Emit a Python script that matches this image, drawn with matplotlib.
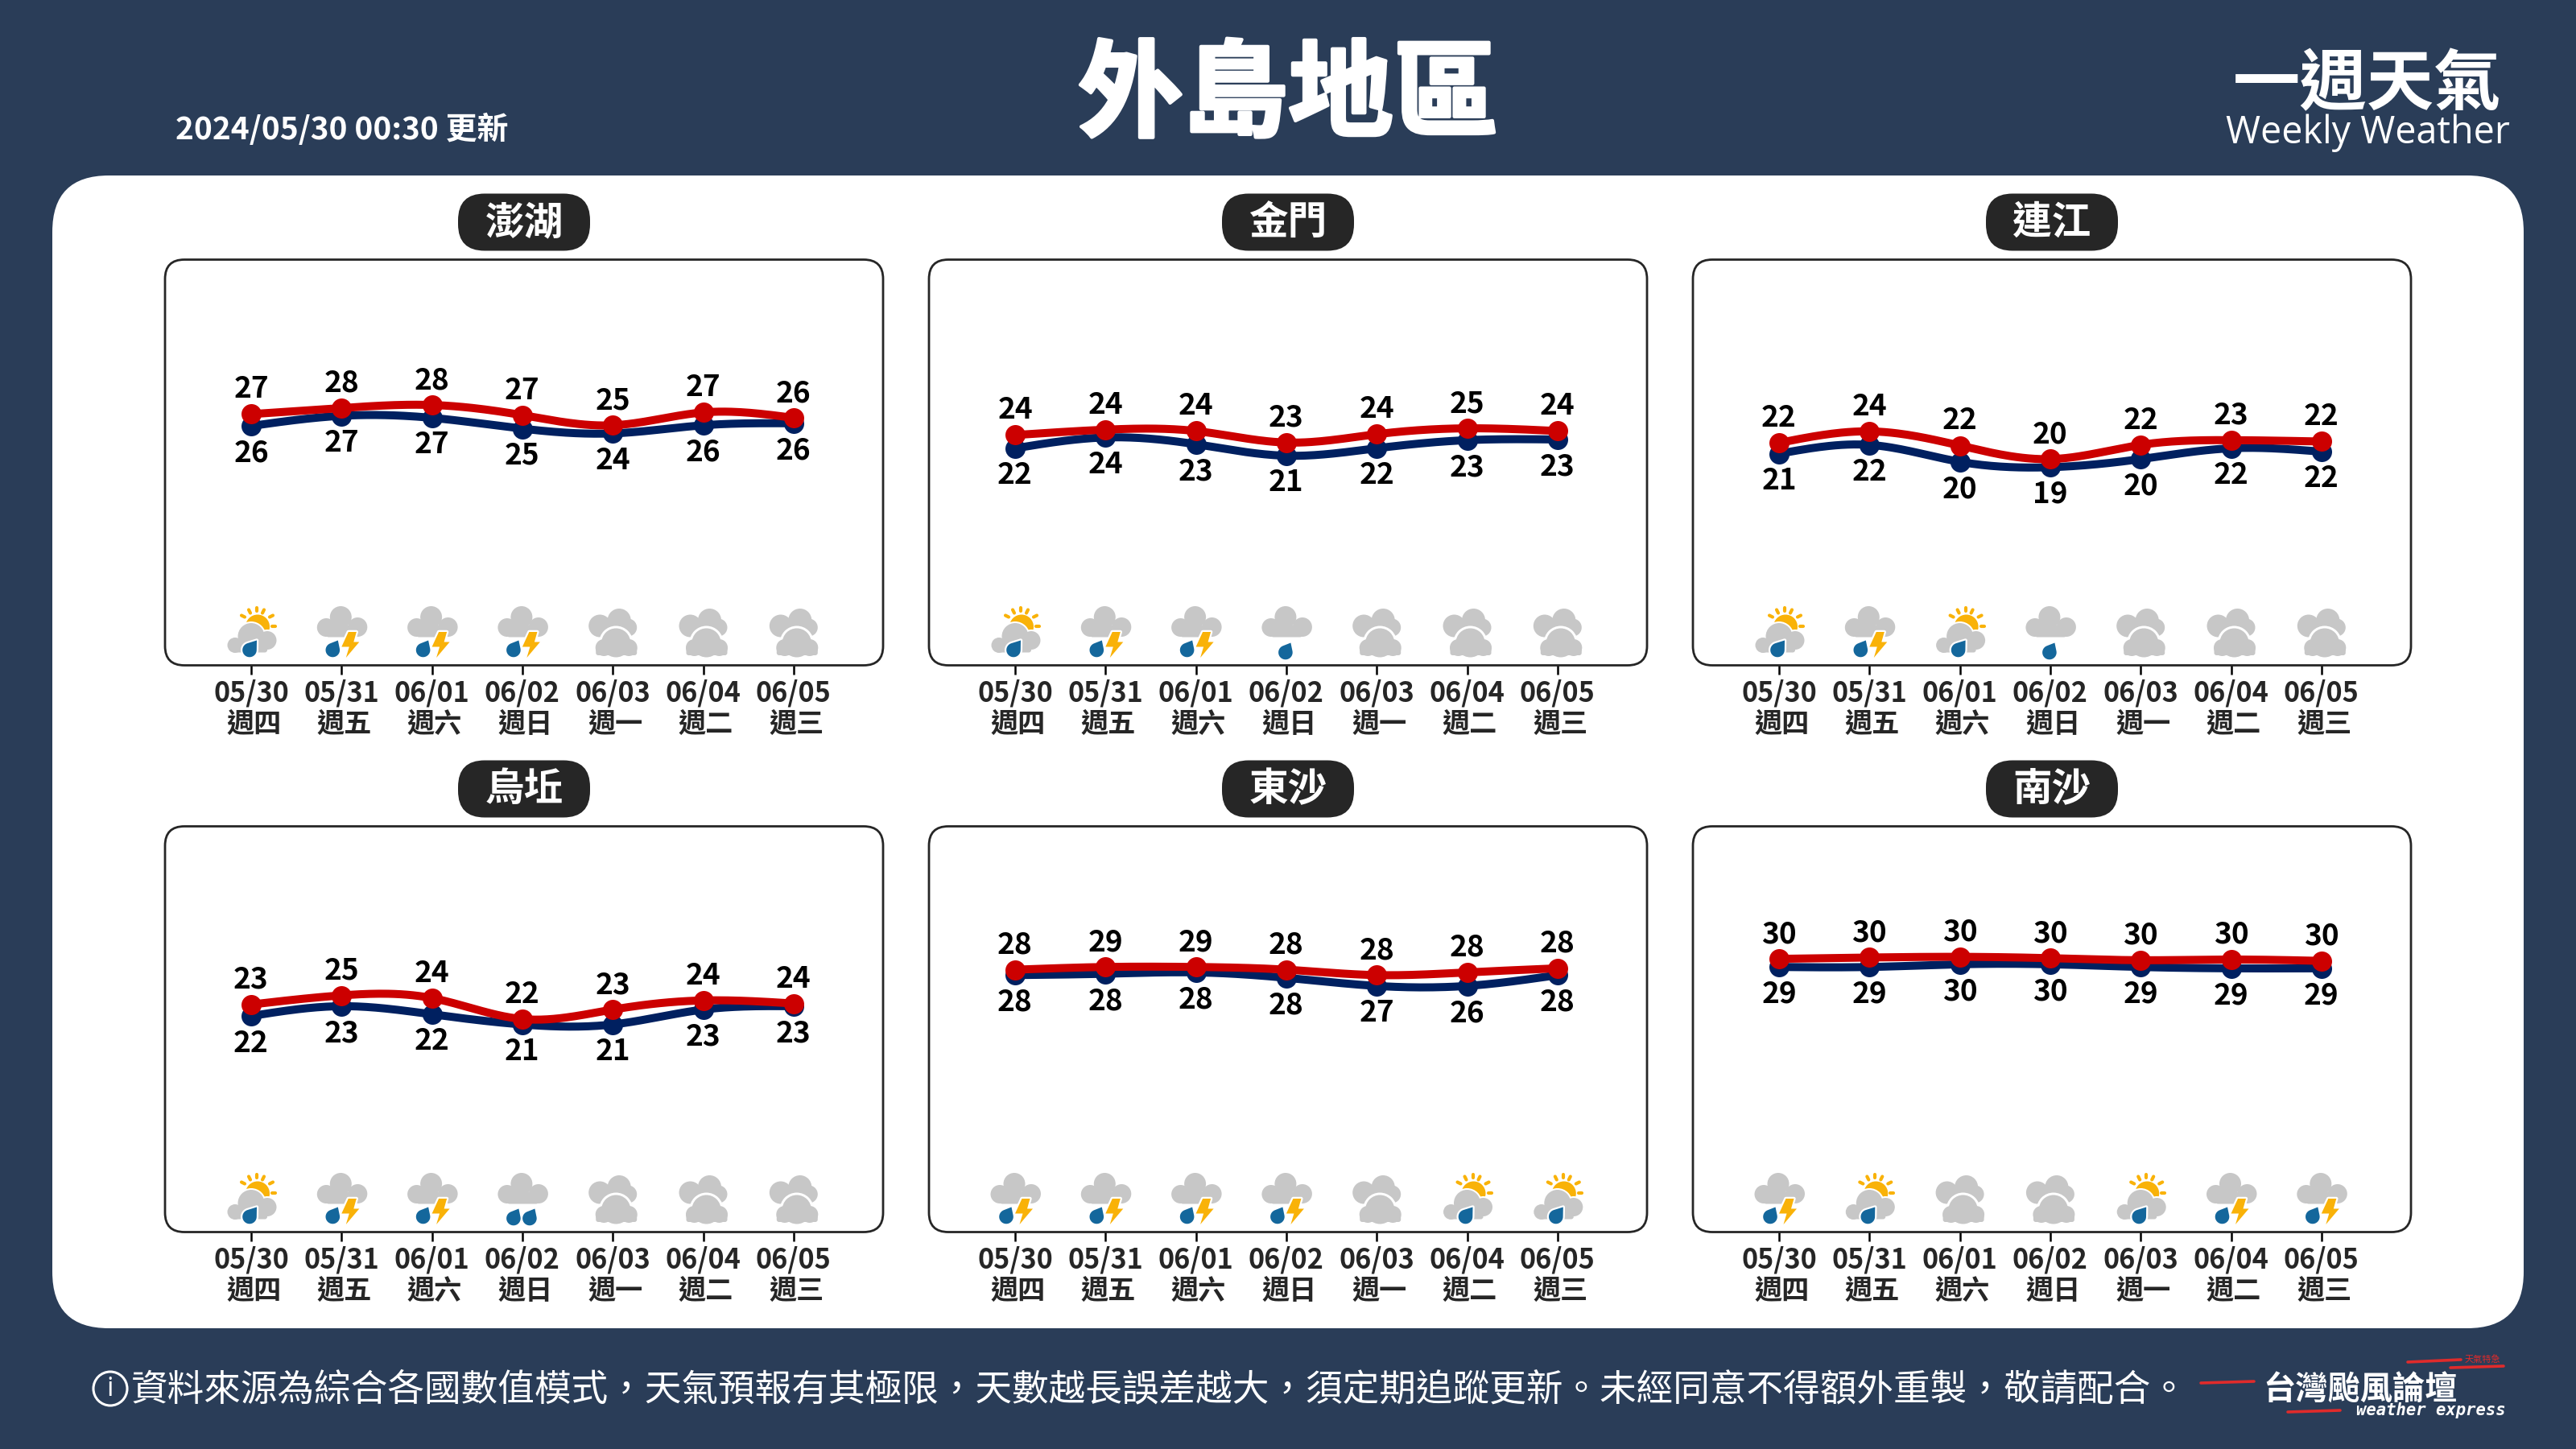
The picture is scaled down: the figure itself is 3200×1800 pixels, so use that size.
import numpy as np
import matplotlib
matplotlib.use("Agg")
import matplotlib.pyplot as plt
from matplotlib.patches import FancyBboxPatch, Circle, Polygon
from matplotlib.transforms import Affine2D, ScaledTranslation
import matplotlib.patheffects as pe

CJK = ['Noto Sans CJK TC', 'DejaVu Sans']
plt.rcParams['font.family'] = CJK

# ---------- data ----------
dates = ['05/30', '05/31', '06/01', '06/02', '06/03', '06/04', '06/05']
weekdays = ['週四', '週五', '週六', '週日', '週一', '週二', '週三']
stations = ['澎湖', '金門', '連江', '烏坵', '東沙', '南沙']

high_penghu = [27.15, 28.05, 28.5, 27.0, 25.5, 27.4, 26.6]
low_penghu = [25.4, 26.9, 26.6, 25.0, 24.3, 25.5, 25.8]
high_kinmen = [24.06, 24.85, 24.65, 22.95, 24.18, 25.05, 24.65]
low_kinmen = [22.1, 23.7, 22.7, 21.0, 22.1, 23.3, 23.4]
high_lienchiang = [22.9, 24.6, 22.5, 20.5, 22.6, 23.3, 23.1]
low_lienchiang = [21.3, 22.6, 20.1, 19.3, 20.5, 22.1, 21.6]
high_wuqiu = [23.65, 25.0, 24.6, 21.5, 22.9, 24.25, 23.8]
low_wuqiu = [21.95, 23.4, 22.2, 20.7, 20.7, 22.9, 23.4]
high_dongsha = [28.8, 29.2, 29.2, 28.8, 28.0, 28.4, 29.0]
low_dongsha = [28.0, 28.2, 28.4, 27.6, 26.4, 26.4, 28.0]
high_nansha = [30.4, 30.6, 30.7, 30.5, 30.2, 30.3, 30.1]
low_nansha = [29.2, 29.2, 29.6, 29.6, 29.2, 29.0, 29.0]

hi_lab_penghu = [27, 28, 28, 27, 25, 27, 26]
lo_lab_penghu = [26, 27, 27, 25, 24, 26, 26]
hi_lab_kinmen = [24, 24, 24, 23, 24, 25, 24]
lo_lab_kinmen = [22, 24, 23, 21, 22, 23, 23]
hi_lab_lienchiang = [22, 24, 22, 20, 22, 23, 22]
lo_lab_lienchiang = [21, 22, 20, 19, 20, 22, 22]
hi_lab_wuqiu = [23, 25, 24, 22, 23, 24, 24]
lo_lab_wuqiu = [22, 23, 22, 21, 21, 23, 23]
hi_lab_dongsha = [28, 29, 29, 28, 28, 28, 28]
lo_lab_dongsha = [28, 28, 28, 28, 27, 26, 28]
hi_lab_nansha = [30, 30, 30, 30, 30, 30, 30]
lo_lab_nansha = [29, 29, 30, 30, 29, 29, 29]

# S: sun+cloud+rain, T: thunder shower, C: cloudy, R: rain, D: heavier rain
wx_penghu = list('STTTCCC')
wx_kinmen = list('STTRCCC')
wx_lienchiang = list('STSRCCC')
wx_wuqiu = list('STTDCCC')
wx_dongsha = list('TTTTCSS')
wx_nansha = list('TSCCSTT')

highs = [high_penghu, high_kinmen, high_lienchiang, high_wuqiu, high_dongsha, high_nansha]
lows = [low_penghu, low_kinmen, low_lienchiang, low_wuqiu, low_dongsha, low_nansha]
hi_labels = [hi_lab_penghu, hi_lab_kinmen, hi_lab_lienchiang, hi_lab_wuqiu, hi_lab_dongsha, hi_lab_nansha]
lo_labels = [lo_lab_penghu, lo_lab_kinmen, lo_lab_lienchiang, lo_lab_wuqiu, lo_lab_dongsha, lo_lab_nansha]
weather = [wx_penghu, wx_kinmen, wx_lienchiang, wx_wuqiu, wx_dongsha, wx_nansha]

FOOTNOTE = ('資料來源為綜合各國數值模式\uff0c天氣預報有其極限\uff0c天數越長誤差越大\uff0c須定期追蹤更新\u3002'
            '未經同意不得額外重製\uff0c敬請配合\u3002')

# ---------- style ----------
BG = '#2a3d58'
RED = '#cc0000'
NAVY = '#002060'
DARK = '#262626'
CLOUD = '#c7c7c7'
GOLD = '#f9b208'
BLUE = '#14679c'
LOGO_RED = '#e02b2b'


def smooth(y, n=30):
    """natural cubic spline through the daily values"""
    y = np.asarray(y, float)
    m = len(y)
    A = np.zeros((m, m))
    b = np.zeros(m)
    A[0, 0] = A[-1, -1] = 1
    for i in range(1, m - 1):
        A[i, i - 1:i + 2] = [1, 4, 1]
        b[i] = 6 * (y[i + 1] - 2 * y[i] + y[i - 1])
    M = np.linalg.solve(A, b)
    xs, ys = [], []
    for i in range(m - 1):
        t = np.linspace(0, 1, n)
        ys.append(M[i] * (1 - t) ** 3 / 6 + M[i + 1] * t ** 3 / 6
                  + (y[i] - M[i] / 6) * (1 - t) + (y[i + 1] - M[i + 1] / 6) * t)
        xs.append(i + t)
    return np.concatenate(xs), np.concatenate(ys)


def drop_pts(cx, cy, r, tx, ty):
    d = np.hypot(tx - cx, ty - cy)
    a0 = np.arctan2(ty - cy, tx - cx)
    da = np.arccos(r / d)
    th = np.linspace(a0 + da, a0 + 2 * np.pi - da, 30)
    pts = np.c_[cx + r * np.cos(th), cy + r * np.sin(th)]
    return np.vstack([[tx, ty], pts])


def cloud(ax, tr, bumps, rect, color=CLOUD, grow=0, z=6):
    x0, y0, x1, y1 = rect
    for (cx, cy, r) in bumps:
        ax.add_patch(Circle((cx, cy), r + grow, fc=color, ec='none', transform=tr, clip_on=False, zorder=z))
    ax.add_patch(FancyBboxPatch((x0 - grow, y0 - grow), x1 - x0 + 2 * grow, y1 - y0 + 2 * grow,
                                boxstyle='round,pad=0,rounding_size=3', fc=color, ec='none',
                                transform=tr, clip_on=False, zorder=z))


def poly(ax, tr, pts, fc, halo=0, z=7):
    """filled shape, with an optional white halo of `halo` points behind it"""
    if halo:
        ax.add_patch(Polygon(pts, closed=True, fc='white', ec='white', lw=halo, transform=tr,
                             clip_on=False, zorder=z - 0.1, joinstyle='round'))
    ax.add_patch(Polygon(pts, closed=True, fc=fc, ec='none', lw=0, transform=tr, clip_on=False, zorder=z))


BIG_BUMPS = [(-19, 47, 11.5), (20, 47.5, 12), (-1, 60, 13.5)]
BIG_RECT = (-19, 35, 20, 50)


def icon(ax, i, kind):
    tr = Affine2D() + ScaledTranslation(i, 0, ax.get_xaxis_transform())
    if kind in 'TRD':
        cloud(ax, tr, BIG_BUMPS, BIG_RECT)
    if kind == 'T':
        bolt = [(8.5, 41.5), (18.5, 41.5), (15, 29), (22, 29), (5.5, 9.5), (9.5, 23), (0, 23)]
        poly(ax, tr, bolt, GOLD, halo=1.6, z=7)
        poly(ax, tr, drop_pts(-11, 19, 8.8, -4.5, 31), BLUE, z=8)
    elif kind == 'R':
        poly(ax, tr, drop_pts(-1, 16, 8.8, 5.5, 28), BLUE, halo=1.4, z=8)
    elif kind == 'D':
        poly(ax, tr, drop_pts(-11, 17, 8.8, -4.5, 29), BLUE, halo=1.4, z=8)
        poly(ax, tr, drop_pts(9, 17, 8.8, 15.5, 29), BLUE, halo=1.4, z=8)
    elif kind == 'S':
        ax.add_patch(Circle((8, 48), 15, fc=GOLD, ec='none', transform=tr, clip_on=False, zorder=5))
        for (a, b, c, d) in [(-12, 62, -8, 60), (-3, 69, -1, 65), (7, 72, 7, 68), (16, 69, 14, 65),
                             (27, 62, 23, 60), (30, 49, 26, 49)]:
            ax.plot([a, c], [b, d], color=GOLD, lw=1.5, solid_capstyle='round', transform=tr,
                    clip_on=False, zorder=5)
        bumps = [(-20, 25, 9.5), (0, 36, 16.5), (20, 31, 11.5)]
        rect = (-20, 16, 20, 32)
        cloud(ax, tr, bumps, rect, color='white', grow=2, z=5.5)
        cloud(ax, tr, bumps, rect)
        poly(ax, tr, drop_pts(-2, 19, 8.8, 7, 31), BLUE, halo=1.6, z=8)
    elif kind == 'C':
        cloud(ax, tr, [(-16, 49, 14), (8, 56, 14.5), (19, 47, 11)], (-17, 35, 20, 50), z=5)
        front = [(-11, 22, 10.5), (4, 28, 18), (20, 22, 10.5)]
        frect = (-21, 12.5, 30, 24)
        cloud(ax, tr, front, frect, color='white', grow=3, z=5.5)
        cloud(ax, tr, front, frect, z=6)


# ---------- figure ----------
W, H = 3200, 1800
fig = plt.figure(figsize=(16, 9), dpi=200, facecolor=BG)
deco = fig.add_axes([0, 0, 1, 1], zorder=0)
deco.set_xlim(0, W)
deco.set_ylim(H, 0)
deco.axis('off')

deco.add_patch(FancyBboxPatch((65, 218), 3070, 1432, boxstyle='round,pad=0,rounding_size=70',
                              fc='white', ec='none'))

deco.text(1600, 121, '外島地區', color='white', fontsize=47, fontweight='black', ha='center',
          va='center', path_effects=[pe.withStroke(linewidth=1.5, foreground='white')])
deco.text(218, 161, '2024/05/30 00:30 更新', color='white', fontsize=14, fontweight='bold',
          ha='left', va='center')
deco.text(2941, 106, '一週天氣', color='white', fontsize=30, fontweight='bold', ha='center', va='center')
deco.text(2941, 165, 'Weekly Weather', color='white', fontsize=16.8, family='Open Sans', ha='center', va='center')

deco.add_patch(Circle((137, 1725), 21, fc='none', ec='white', lw=1.1))
deco.text(137, 1725, 'i', color='white', fontsize=12, family='Open Sans', ha='center', va='center')
deco.text(163, 1726, FOOTNOTE, color='white', fontsize=16.45, fontweight='light', ha='left', va='center')

for (x0, y0, x1, y1) in [(2734, 1718, 2800, 1716), (2842, 1754, 2907, 1752),
                         (2991, 1692, 3057, 1689), (3044, 1699, 3110, 1697)]:
    deco.plot([x0, x1], [y0, y1], color=LOGO_RED, lw=1.3, solid_capstyle='round')
deco.text(2932, 1727, '台灣颱風論壇', color='white', fontsize=14.5, fontweight='bold', ha='center', va='center')
deco.text(3020, 1752, 'weather express', color='white', fontsize=7.4, family='DejaVu Sans Mono',
          style='oblique', fontweight='bold', ha='center', va='center')
deco.text(3084, 1689, '天氣特急', color=LOGO_RED, fontsize=4, ha='center', va='center')

lefts = [205, 1154, 2103]
tops = [322.5, 1026.5]
BW, BH = 892, 504
X0, DX = 107, 112.3

for k, name in enumerate(stations):
    left = lefts[k % 3]
    top = tops[k // 3]
    deco.add_patch(FancyBboxPatch((left, top), BW, BH, boxstyle='round,pad=0,rounding_size=24',
                                  fc='white', ec=DARK, lw=1.0))
    cx = left + BW / 2
    deco.add_patch(FancyBboxPatch((cx - 82, top - 82), 164, 71, boxstyle='round,pad=0,rounding_size=33',
                                  fc=DARK, ec='none'))
    deco.text(cx, top - 46, name, color='white', fontsize=17.5, fontweight='bold', ha='center', va='center')

    ax = fig.add_axes([left / W, 1 - (top + BH) / H, BW / W, BH / H], zorder=2)
    ax.patch.set_alpha(0)
    ax.set_xlim(-X0 / DX, (BW - X0) / DX)
    ax.set_ylim(-10, 50)
    for s in ax.spines.values():
        s.set_visible(False)
    ax.set_yticks([])
    ax.set_xticks(range(7), dates, fontsize=12.3, fontweight='bold', color=DARK)
    ax.tick_params(axis='x', length=4, width=0.9, color='black', pad=2.2)

    hi, lo = highs[k], lows[k]
    xs = np.arange(7)
    ax.plot(*smooth(lo), color=NAVY, lw=3.6, zorder=3)
    ax.plot(xs, lo, 'o', color=NAVY, ms=9, mew=0, zorder=3)
    ax.plot(xs, hi, 'o', color=RED, ms=9, mew=0, zorder=4)
    ax.plot(*smooth(hi), color=RED, lw=3.6, zorder=5)

    for i in xs:
        ax.annotate(str(hi_labels[k][i]), (i, hi[i]), xytext=(0, 11.0), textcoords='offset points',
                    ha='center', va='center', fontsize=13.3, fontweight='bold', color='black', zorder=9)
        ax.annotate(str(lo_labels[k][i]), (i, lo[i]), xytext=(0, -12.2), textcoords='offset points',
                    ha='center', va='center', fontsize=13.3, fontweight='bold', color='black', zorder=9)
        ax.annotate(weekdays[i], (i, 0), xycoords=ax.get_xaxis_transform(), xytext=(1.2, -26.6),
                    textcoords='offset points', ha='center', va='center', fontsize=12.3,
                    fontweight='bold', color=DARK)
        icon(ax, i, weather[k][i])

fig.savefig('out.png', dpi=200, facecolor=BG)
